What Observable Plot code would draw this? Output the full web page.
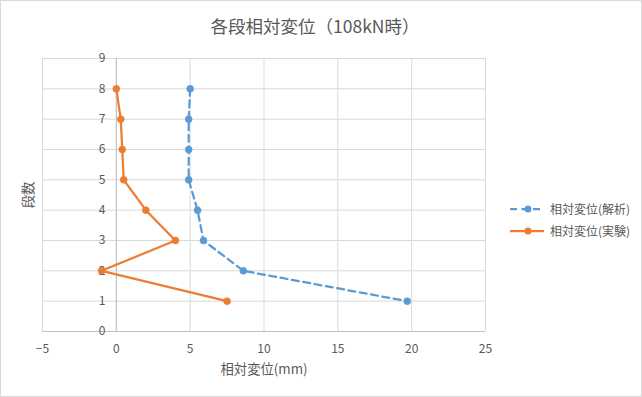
<!DOCTYPE html>
<html>
<head>
<meta charset="utf-8">
<script src="https://cdn.jsdelivr.net/npm/d3@7"></script>
<script src="https://cdn.jsdelivr.net/npm/@observablehq/plot@0.6"></script>
<style>
  html, body { margin: 0; padding: 0; background: #fff; }
  #wrap { position: relative; width: 642px; height: 397px; overflow: hidden; font-family: "Noto Sans CJK JP", "Noto Sans", sans-serif; color: #595959; }
  #wrap svg.plot { position: absolute; left: 0; top: 0; }
  #border { position: absolute; left: 0; top: 0; right: 0; bottom: 0; border: 1px solid #d9d9d9; pointer-events: none; }
  #title { position: absolute; top: 13px; left: 0; width: 630px; text-align: center; font-size: 17.5px; line-height: 26px; }
  .leg { position: absolute; left: 509px; font-size: 12px; line-height: 16px; display: flex; align-items: center; white-space: nowrap; }
  .leg svg { margin-right: 5px; }
</style>
</head>
<body>
<div id="wrap">
  <div id="title">各段相対変位（108kN時）</div>
  <div class="leg" style="top:201px">
    <svg width="36" height="10"><line x1="1" y1="5" x2="35" y2="5" stroke="#5B9BD5" stroke-width="2.25" stroke-dasharray="7,4.5"/><circle cx="19" cy="5" r="3.5" fill="#5B9BD5"/></svg>相対変位(解析)
  </div>
  <div class="leg" style="top:223px">
    <svg width="36" height="10"><line x1="1" y1="5" x2="35" y2="5" stroke="#ED7D31" stroke-width="2.25"/><circle cx="19" cy="5" r="3.5" fill="#ED7D31"/></svg>相対変位(実験)
  </div>
  <div id="border"></div>
</div>
<script>
const stories = [8, 7, 6, 5, 4, 3, 2, 1];
const analysis = [5.0, 4.9, 4.9, 4.9, 5.5, 5.9, 8.6, 19.7];
const experiment = [0.0, 0.3, 0.4, 0.5, 2.0, 4.0, -1.0, 7.5];
const xTicks = [-5, 0, 5, 10, 15, 20, 25];
const yTicks = [0, 1, 2, 3, 4, 5, 6, 7, 8, 9];
const seriesNames = ["相対変位(解析)", "相対変位(実験)"];
const xTitle = "相対変位(mm)";
const yTitle = "段数";

const blue = "#5B9BD5", orange = "#ED7D31";
const anaData = stories.map((s, i) => ({y: s, x: analysis[i], series: seriesNames[0]}));
const expData = stories.map((s, i) => ({y: s, x: experiment[i], series: seriesNames[1]}));

const chart = Plot.plot({
  width: 642,
  height: 397,
  marginLeft: 42,
  marginRight: 157,
  marginTop: 58,
  marginBottom: 66,
  x: {domain: [-5, 25]},
  y: {domain: [0, 9]},
  style: {fontFamily: '"Noto Sans CJK JP", "Noto Sans", sans-serif', fontSize: "12px", color: "#595959", background: "transparent"},
  marks: [
    Plot.gridX(xTicks, {stroke: "#d9d9d9", strokeOpacity: 1}),
    Plot.gridY(yTicks, {stroke: "#d9d9d9", strokeOpacity: 1}),
    Plot.ruleX([0], {stroke: "#bfbfbf", strokeWidth: 1}),
    Plot.ruleY([0], {stroke: "#bfbfbf", strokeWidth: 1}),
    Plot.axisX(xTicks, {tickSize: 0, tickPadding: 13, label: null, fill: "#595959", fontSize: 12}),
    Plot.axisY([], {label: null}),
    Plot.text(yTicks, {x: 0, y: d => d, text: d => String(d), textAnchor: "end", dx: -11, fill: "#595959", fontSize: 12}),
    Plot.text([xTitle], {frameAnchor: "bottom", lineAnchor: "middle", textAnchor: "middle", dy: 38, fill: "#595959", fontSize: 13.33}),
    Plot.text([yTitle], {frameAnchor: "left", textAnchor: "middle", lineAnchor: "middle", dx: -14, rotate: -90, fill: "#595959", fontSize: 13.33}),
    Plot.line(anaData, {x: "x", y: "y", stroke: blue, strokeWidth: 2.25, strokeDasharray: "7,4.5", curve: "linear"}),
    Plot.dot(anaData, {x: "x", y: "y", r: 3.5, fill: blue, stroke: blue, strokeWidth: 0.5}),
    Plot.line(expData, {x: "x", y: "y", stroke: orange, strokeWidth: 2.25, curve: "linear"}),
    Plot.dot(expData, {x: "x", y: "y", r: 3.5, fill: orange, stroke: orange, strokeWidth: 0.5})
  ]
});
document.getElementById("wrap").prepend(chart);
</script>
</body>
</html>
